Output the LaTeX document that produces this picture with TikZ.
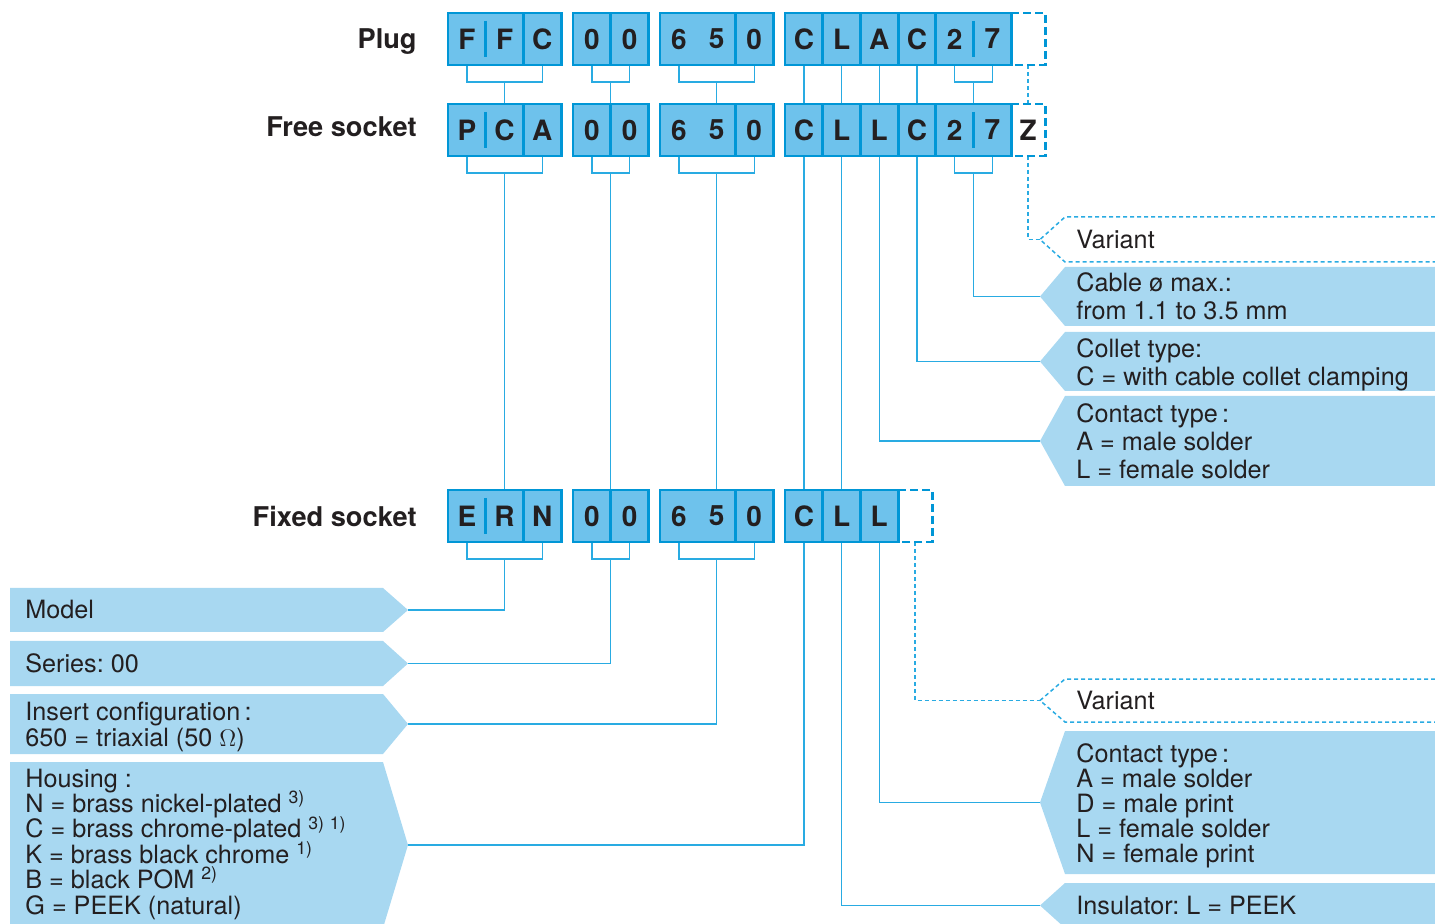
\documentclass[tikz,border=0pt]{standalone}
\usepackage{fontspec}
\setmainfont{TeX Gyre Heros}
\usepackage{tikz}
\usetikzlibrary{positioning}
\definecolor{boxfill}{RGB}{110,194,236}
\definecolor{boxline}{RGB}{0,150,214}
\definecolor{tagfill}{RGB}{168,216,241}
\definecolor{wireblue}{RGB}{41,171,226}
\definecolor{ink}{RGB}{35,31,32}
\frenchspacing

\begin{document}
\begin{tikzpicture}[x=0.5pt, y=-0.5pt,
    cell/.style={rectangle, fill=boxfill, minimum width=18.85pt,
                 minimum height=26pt, inner sep=0pt, outer sep=0pt,
                 font=\fontsize{14}{14}\selectfont\bfseries, text=ink},
    spare/.style={cell, fill=white, minimum width=17pt},
    frame/.style={draw=boxline, line width=1.4pt},
    dashframe/.style={frame, dash pattern=on 4pt off 2pt},
    wire/.style={draw=wireblue, line width=0.75pt},
    dwire/.style={wire, dash pattern=on 2pt off 1.5pt},
    tag/.style={fill=tagfill},
    dtag/.style={dwire},
    tagtext/.style={anchor=west, align=left, text=ink, inner sep=0pt,
                    font=\fontsize{12.6}{14}\selectfont\lineskiplimit-20pt\relax},
    rowname/.style={text=ink, inner sep=0pt,
                    font=\fontsize{13.6}{13.6}\selectfont\bfseries},
  ]
    \useasboundingbox (0,0) rectangle (1435,924);

    % code cells
    \foreach \x/\a/\b/\c [count=\i] in {466.85/F/P/E, 504.55/F/C/R, 542.25/C/A/N,
        591.85/0/0/0, 629.55/0/0/0, 678.85/6/6/6, 716.55/5/5/5, 754.25/0/0/0,
        803.85/C/C/C, 841.55/L/L/L, 879.25/A/L/L} {
      \node[cell] (pl\i) at (\x,39)  {\a};
      \node[cell] (fr\i) at (\x,130) {\b};
      \node[cell] (fx\i) at (\x,516) {\c};
    }
    \foreach \x/\a/\b [count=\i from 12] in {916.95/C/C, 954.65/2/2, 992.35/7/7} {
      \node[cell] (pl\i) at (\x,39)  {\a};
      \node[cell] (fr\i) at (\x,130) {\b};
    }
    \node[spare, right=0pt of pl14] (plz) {};
    \node[spare, right=0pt of fr14] (frz) {Z};
    \node[spare, right=0pt of fx11] (fxz) {};

    \node[rowname, left=15.5pt of pl1.west, anchor=east, yshift=-1.5pt] (plug)  {Plug};
    \node[rowname, left=15.5pt of fr1.west, anchor=east, yshift=1.5pt] (free)  {Free socket};
    \node[rowname, left=15.5pt of fx1.west, anchor=east] (fixed) {Fixed socket};

    % labels on the right
    \foreach \n/\t/\b in {cable/267/326, collet/332/391, contact/396/486,
        pin/731/874, insul/883/928} {
      \fill[tag] (1040,{(\t+\b)/2}) -- (1065,\t) -- (1435,\t) -- (1435,\b)
                 -- (1065,\b) -- cycle;
      \coordinate (\n-tip) at (1040,{(\t+\b)/2});
    }
    \foreach \n/\t/\b in {var/217/262, var2/679/722} {
      \draw[dtag] (1435,\t) -- (1065,\t) -- (1040,{(\t+\b)/2}) -- (1065,\b) -- (1435,\b);
      \coordinate (\n-tip) at (1040,{(\t+\b)/2});
    }
    % labels on the left
    \foreach \n/\t/\b in {model/588/632, series/641/686, insert/694/754,
        housing/762/928} {
      \fill[tag] (408,{(\t+\b)/2}) -- (383,\t) -- (10,\t) -- (10,\b)
                 -- (383,\b) -- cycle;
      \coordinate (\n-tip) at (408,{(\t+\b)/2});
    }

    \node[tagtext, right=18pt of var-tip] (vartxt) {Variant};
    \node[tagtext, right=18pt of cable-tip] (cabletxt) {Cable ø max.:\\ from 1.1 to 3.5 mm};
    \node[tagtext, right=18pt of collet-tip, yshift=-1.5pt] (collettxt) {Collet type:\\ C = with cable collet clamping};
    \node[tagtext, right=18pt of contact-tip] (contacttxt) {Contact type\,:\\ A = male solder\\ L = female solder};
    \node[tagtext, right=18pt of var2-tip] (var2txt) {Variant};
    \node[tagtext, right=18pt of pin-tip, yshift=-1.5pt,
          font=\fontsize{12.6}{12.5}\selectfont] (pintxt)
      {Contact type\,:\\ A = male solder\\ D = male print\\ L = female solder\\ N = female print};
    \node[tagtext, right=18pt of insul-tip] (insultxt) {Insulator: L = PEEK};

    \node[tagtext] (modeltxt) at (25,610) {Model};
    \node[tagtext] (seriestxt) at (25,663.5) {Series: 00};
    \node[tagtext, font=\fontsize{12.6}{13}\selectfont] (inserttxt) at (25,727)
      {Insert configuration\,:\\ 650 = triaxial (50 $\Omega$)};
    \node[tagtext, font=\fontsize{12.6}{12.7}\selectfont\lineskiplimit-20pt\relax] (housingtxt) at (25,844)
      {Housing :\\ N = brass nickel-plated \textsuperscript{3)}\\
       C = brass chrome-plated \textsuperscript{3)\,\,1)}\\
       K = brass black chrome \textsuperscript{1)}\\
       B = black POM \textsuperscript{2)}\\ G = PEEK (natural)};

    % plug to free socket
    \foreach \r in {pl,fr,fx} {
      \draw[wire] (\r1.south) -- ++(0,-8.5pt) -| (\r3.south);
      \draw[wire] (\r4.south) -- ++(0,-8.5pt) -| (\r5.south);
      \draw[wire] (\r6.south) -- ++(0,-8.5pt) -| (\r8.south);
    }
    \foreach \r in {pl,fr}
      \draw[wire] (\r13.south) -- ++(0,-8.5pt) -| (\r14.south);
    \draw[wire] ([yshift=-8.5pt]pl2.south) -- (fr2.north);
    \draw[wire] ([yshift=-8.5pt]pl4.south east) -- (fr4.north east);
    \draw[wire] ([yshift=-8.5pt]pl7.south) -- (fr7.north);
    \foreach \i in {9,...,12}
      \draw[wire] (pl\i.south) -- (fr\i.north);
    \draw[wire] ([yshift=-8.5pt]pl13.south east) -- (fr13.north east);
    \draw[dwire] (plz.south) -- (frz.north);

    % free socket
    \draw[wire] ([yshift=-8.5pt]fr2.south) -- (fx2.north);
    \draw[wire] ([yshift=-8.5pt]fr4.south east) -- (fx4.north east);
    \draw[wire] ([yshift=-8.5pt]fr7.south) -- (fx7.north);
    \draw[wire] (fr9.south) -- (fx9.north);
    \draw[wire] (fr10.south) -- (fx10.north);
    \draw[wire] (fr11.south) |- (contact-tip);
    \draw[wire] (fr12.south) |- (collet-tip);
    \draw[wire] ([yshift=-8.5pt]fr13.south east) |- (cable-tip);
    \draw[dwire] (frz.south) |- (var-tip);

    % fixed socket
    \draw[wire] ([yshift=-8.5pt]fx2.south) |- (model-tip);
    \draw[wire] ([yshift=-8.5pt]fx4.south east) |- (series-tip);
    \draw[wire] ([yshift=-8.5pt]fx7.south) |- (insert-tip);
    \draw[wire] (fx9.south) |- (housing-tip);
    \draw[wire] (fx10.south) |- (insul-tip);
    \draw[wire] (fx11.south) |- (pin-tip);
    \draw[dwire] (fxz.south) |- (var2-tip);

    % frames
    \foreach \r in {pl,fr,fx} {
      \draw[frame] (\r1.north west) rectangle (\r3.south east);
      \draw[frame] (\r4.north west) rectangle (\r5.south east);
      \draw[frame] (\r6.north west) rectangle (\r8.south east);
      \foreach \c in {2,4,7,9,10}
        \draw[frame] (\r\c.north east) -- (\r\c.south east);
      \draw[frame] ([yshift=-4pt]\r1.north east) -- ([yshift=4pt]\r1.south east);
    }
    \foreach \r in {pl,fr} {
      \draw[frame] (\r9.north west) rectangle (\r14.south east);
      \foreach \c in {11,12}
        \draw[frame] (\r\c.north east) -- (\r\c.south east);
      \draw[frame] ([yshift=-4pt]\r13.north east) -- ([yshift=4pt]\r13.south east);
    }
    \draw[frame] (fx9.north west) rectangle (fx11.south east);
    \foreach \z in {plz,frz,fxz}
      \draw[dashframe] (\z.north west) -- (\z.north east) -- (\z.south east) -- (\z.south west);
\end{tikzpicture}
\end{document}
